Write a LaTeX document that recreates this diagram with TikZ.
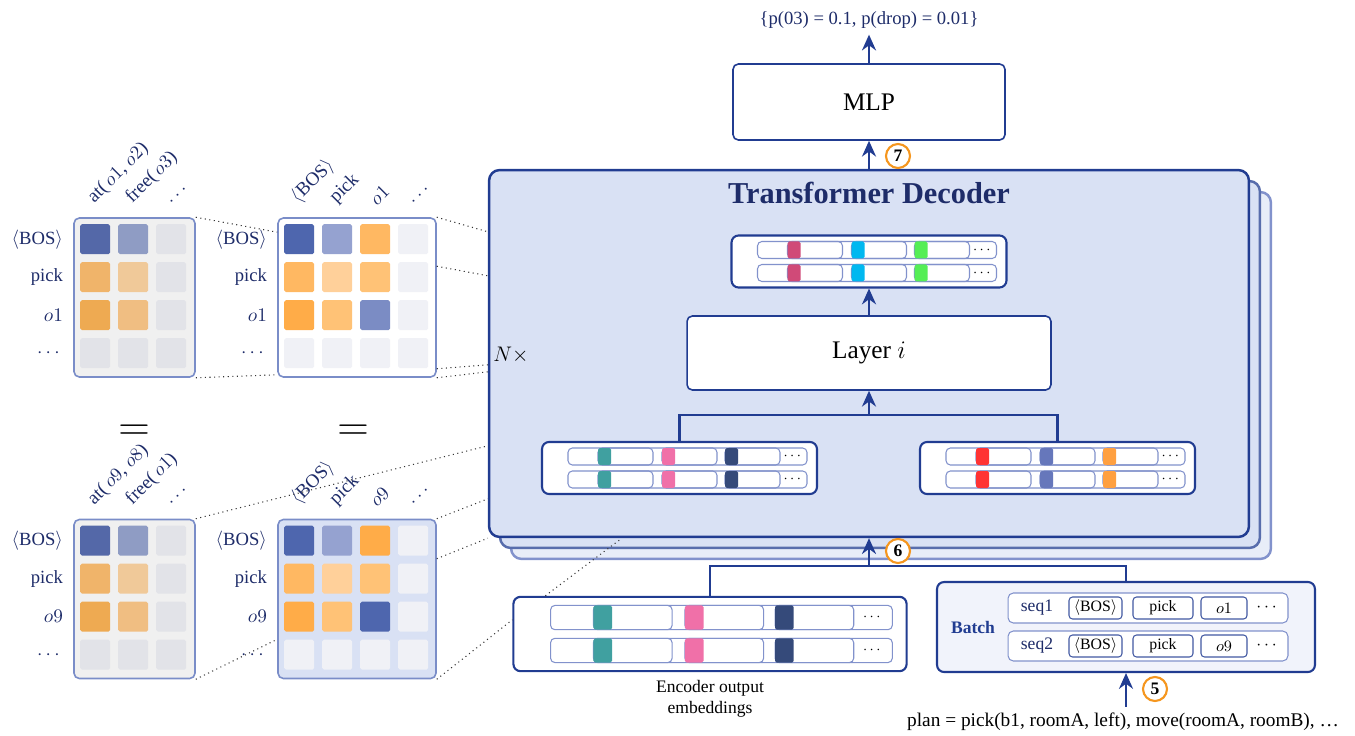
\documentclass[tikz,border=0pt]{standalone}
\usepackage{fontspec}
\setmainfont{Liberation Serif}
\usepackage{amsmath}
\usetikzlibrary{calc, positioning, arrows.meta}

\definecolor{navy}{RGB}{33,60,145}
\definecolor{inkblue}{RGB}{30,44,105}
\definecolor{decfill}{RGB}{217,225,244}
\definecolor{rowline}{RGB}{130,146,204}
\definecolor{matline}{RGB}{122,141,200}
\definecolor{badgeorange}{RGB}{245,150,30}
\definecolor{batchfill}{RGB}{241,243,251}
% attention cells
\definecolor{gBox}{RGB}{240,240,240}
\definecolor{gBlue}{RGB}{84,104,168}
\definecolor{gBlueL}{RGB}{143,156,196}
\definecolor{gGrey}{RGB}{226,227,232}
\definecolor{gOr}{RGB}{240,180,106}
\definecolor{gOrL}{RGB}{240,201,153}
\definecolor{gOrD}{RGB}{238,170,82}
\definecolor{gOrM}{RGB}{240,190,130}
\definecolor{wBlue}{RGB}{78,102,174}
\definecolor{wBlueL}{RGB}{149,162,208}
\definecolor{wBlueM}{RGB}{123,140,196}
\definecolor{wGrey}{RGB}{240,241,246}
\definecolor{wOr}{RGB}{255,184,98}
\definecolor{wOrL}{RGB}{255,208,154}
\definecolor{wOrM}{RGB}{255,194,118}
\definecolor{wOrD}{RGB}{255,172,72}
% embedding colours
\definecolor{eRose}{RGB}{208,74,120}
\definecolor{eSky}{RGB}{0,184,240}
\definecolor{eGreen}{RGB}{85,238,85}
\definecolor{eTeal}{RGB}{64,160,160}
\definecolor{ePink}{RGB}{240,112,168}
\definecolor{eNavy}{RGB}{53,74,122}
\definecolor{eRed}{RGB}{255,51,51}
\definecolor{eSlate}{RGB}{102,119,187}
\definecolor{eOrange}{RGB}{255,160,64}

% name, centre, scale, three segment colours
\newcommand{\embbox}[6]{%
  \node[embouter, minimum width={5.5cm*#3}, minimum height={1.04cm*#3}] (#1) at (#2) {};
  \begin{scope}[shift={(#1.center)}, scale=#3]
    \foreach \ya [count=\k] in {-20,3} {
      \draw[embrow, fill=white] (-111.5,\ya) rectangle ++(239,17);
      \foreach \sx/\sc in {-81.5/#4, -17.5/#5, 45.5/#6} {
        \draw[embrow] (\sx,\ya) rectangle ++(55,17);
        \fill[\sc, rounded corners=1pt] (\sx,\ya) rectangle ++(13,17);
      }
      \node[font=\footnotesize, inner sep=0pt] (#1-dots\k) at (114,\ya+8.5) {$\cdots$};
    }
  \end{scope}}

% name, centre, box fill, box width, cell rows, column labels, row labels
\newcommand{\attnmat}[7]{%
  \node[matbox, fill=#3, minimum width=#4] (#1) at (#2) {};
  \foreach \cols [count=\i] in {#5}
    \foreach \cc [count=\j] in \cols
      \node[attcell, fill=\cc] (#1-\i-\j) at ($(#1.north west)+(38*\j-16,38*\i-16)$) {};
  \foreach \t [count=\j] in {#6}
    \node[collbl] (#1-c\j) at ($(#1.north west)+(38*\j-14,-9)$) {\t};
  \foreach \t [count=\i] in {#7}
    \node[rowlbl] (#1-r\i) at ($(#1.north west)+(-10,38*\i-16)$) {\t};
}

\begin{document}
\begin{tikzpicture}[x=0.02cm, y=-0.02cm,
  decbox/.style={line width=1.4pt, rounded corners=6pt,
    minimum width=15.2cm, minimum height=7.34cm, inner sep=0pt},
  plainbox/.style={draw=navy, line width=0.9pt, fill=white, rounded corners=3pt, inner sep=0pt},
  embouter/.style={draw=navy, line width=1.2pt, fill=white, rounded corners=4pt, inner sep=0pt},
  embrow/.style={draw=rowline, line width=0.6pt, rounded corners=2.5pt},
  matbox/.style={draw=matline, line width=0.9pt, rounded corners=3pt,
    minimum height=3.18cm, inner sep=0pt},
  attcell/.style={minimum size=0.6cm, inner sep=0pt, rounded corners=1pt},
  rowlbl/.style={anchor=east, text=inkblue, inner sep=0pt, font=\fontsize{10.6}{12}\selectfont},
  collbl/.style={anchor=south west, rotate=45, text=inkblue, inner sep=0.5pt,
    font=\fontsize{10.8}{12}\selectfont},
  arr/.style={draw=navy, line width=1.3pt, -{Stealth[length=9pt, width=8pt]}},
  conn/.style={draw=navy, line width=1.3pt},
  zoomline/.style={dotted, line width=0.6pt, black!80},
  badge/.style={circle, draw=badgeorange, line width=1.2pt, fill=white,
    font=\bfseries, minimum size=0.48cm, inner sep=0pt},
  tok/.style={draw=navy!85, line width=0.6pt, fill=white, rounded corners=2pt,
    minimum height=0.44cm, inner sep=1pt, font=\small},
  seqrow/.style={draw=rowline, line width=0.6pt, fill=white, rounded corners=3pt,
    minimum width=5.6cm, minimum height=0.6cm},
]
  \useasboundingbox (0,0) rectangle (1355,736);

  % decoder stack
  \node[decbox, draw=rowline, fill=decfill!60!white] (dec3) at (891,375.5) {};
  \node[decbox, draw=navy!75, fill=decfill] (dec2) at (880,364.5) {};
  \node[decbox, draw=navy, fill=decfill] (dec) at (869,353.5) {};
  \node[font=\LARGE\bfseries, text=inkblue] (dectitle) at (869,193) {Transformer Decoder};
  \node[font=\large] (nx) at (511,355) {$N\times$};

  \embbox{embT}{869,261.5}{1}{eRose}{eSky}{eGreen}
  \node[plainbox, minimum width=7.28cm, minimum height=1.48cm, font=\Large] (layer) at (869,353) {Layer $i$};
  \embbox{embL}{679.5,468}{1}{eTeal}{ePink}{eNavy}
  \embbox{embR}{1057.5,468}{1}{eRed}{eSlate}{eOrange}

  \draw[arr] (layer.north) -- (embT.south);
  \coordinate (jL) at (869,415);
  \draw[conn] (embL.north) |- (jL) -| (embR.north);
  \draw[arr] (jL) -- (layer.south);

  % head
  \node[plainbox, minimum width=5.44cm, minimum height=1.52cm, font=\Large] (mlp) at (869,102) {MLP};
  \node[text=inkblue, font=\fontsize{10.6}{12}\selectfont] (out) at (869,20) {\{p(03) = 0.1, p(drop) = 0.01\}};
  \draw[arr] (dec.north) -- (mlp.south);
  \draw[arr] (mlp.north) -- (out.south);
  \node[badge] (b7) at (898,156) {7};

  % inputs
  \embbox{enc}{710,634}{1.43}{eTeal}{ePink}{eNavy}
  \node[align=center, below=1pt of enc] (enccap) {Encoder output\\embeddings};

  \node[draw=navy, line width=1.2pt, fill=batchfill, rounded corners=4pt,
    minimum width=7.56cm, minimum height=1.8cm] (batch) at (1126,627) {};
  \node[font=\bfseries, text=navy] (batchlbl) at (973,627) {Batch};
  \foreach \k/\yy/\obj in {1/608/$o1$, 2/646/$o9$} {
    \node[seqrow] (row\k) at (1148,\yy) {};
    \node[text=inkblue] (seq\k) at (1037,\yy) {seq\k};
    \node[tok, minimum width=1.06cm] (bos\k) at (1095.5,\yy) {$\langle$BOS$\rangle$};
    \node[tok, minimum width=1.2cm] (pick\k) at (1163,\yy) {pick};
    \node[tok, minimum width=0.92cm] (obj\k) at (1224,\yy) {\obj};
    \node (more\k) at (1268,\yy) {$\cdots$};
  }
  \node[font=\fontsize{11}{13}\selectfont] (plan) at (1123,722) {plan = pick(b1, roomA, left), move(roomA, roomB), \dots};

  \coordinate (jD) at (869,566);
  \draw[conn] (enc.north) |- (jD) -| (batch.north);
  \draw[arr] (jD) -- (dec.south);
  \draw[arr] (plan.north -| batch.south) -- (batch.south);
  \node[badge] (b6) at (898,551) {6};
  \node[badge] (b5) at (1155,689) {5};

  % attention maps
  \attnmat{matA}{134.5,297.5}{gBox}{2.42cm}
    {{gBlue,gBlueL,gGrey},{gOr,gOrL,gGrey},{gOrD,gOrM,gGrey},{gGrey,gGrey,gGrey}}
    {{at(\,$o1$, $o2$)},{free(\,$o3$)},$\cdots$}
    {$\langle$BOS$\rangle$,pick,$o1$,$\cdots$}
  \attnmat{matB}{357,297.5}{white}{3.16cm}
    {{wBlue,wBlueL,wOr,wGrey},{wOr,wOrL,wOrM,wGrey},{wOrD,wOrM,wBlueM,wGrey},{wGrey,wGrey,wGrey,wGrey}}
    {$\langle$BOS$\rangle$,pick,$o1$,$\cdots$}
    {$\langle$BOS$\rangle$,pick,$o1$,$\cdots$}
  \attnmat{matC}{134.5,599}{gBox}{2.42cm}
    {{gBlue,gBlueL,gGrey},{gOr,gOrL,gGrey},{gOrD,gOrM,gGrey},{gGrey,gGrey,gGrey}}
    {{at(\,$o9$, $o8$)},{free(\,$o1$)},$\cdots$}
    {$\langle$BOS$\rangle$,pick,$o9$,$\cdots$}
  \attnmat{matD}{357,599}{decfill}{3.16cm}
    {{wBlue,wBlueL,wOrD,wGrey},{wOr,wOrL,wOrM,wGrey},{wOrD,wOrM,wBlue,wGrey},{wGrey,wGrey,wGrey,wGrey}}
    {$\langle$BOS$\rangle$,pick,$o9$,$\cdots$}
    {$\langle$BOS$\rangle$,pick,$o9$,$\cdots$}
  \node[font=\Huge] (eqA) at (134,433) {$=$};
  \node[font=\Huge] (eqB) at (353,433) {$=$};

  % zoom lines
  \draw[zoomline] (matA.north east) -- ($(matB.north west)+(0,15)$);
  \draw[zoomline] (matA.south east) -- ($(matB.south west)+(0,-3)$);
  \draw[zoomline] (matB.north east) -- ($(dec.north west)+(0,63)$);
  \draw[zoomline] ($(matB.north east)+(0,49)$) -- ($(dec.north west)+(0,107)$);
  \draw[zoomline] ($(matB.south east)+(0,-9)$) -- ($(dec.north west)+(0,196)$);
  \draw[zoomline] (matB.south east) -- ($(dec.north west)+(0,203)$);
  \draw[zoomline] (matC.north east) -- ($(dec.north west)+(0,277)$);
  \draw[zoomline] (matD.north east) -- ($(dec.north west)+(0,330)$);
  \draw[zoomline] ($(matD.north east)+(0,40)$) -- (dec.south west);
  \draw[zoomline] (matC.south east) -- ($(matD.south west)+(0,-40)$);
  \draw[zoomline] (matD.south east) -- ($(enc.north west)+(0,24)$);
  \draw[zoomline] ($(enc.north west)+(33,0)$) -- ($(dec.south west)+(134,0)$);
\end{tikzpicture}
\end{document}
